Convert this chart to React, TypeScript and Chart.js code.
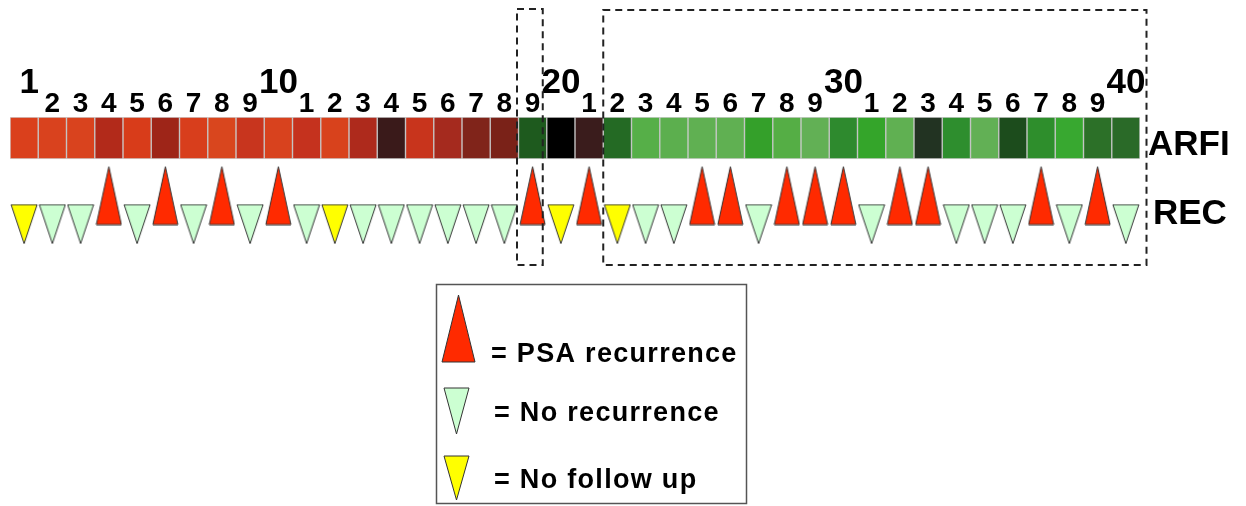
import React, { useEffect, useRef } from 'react';
import { Chart, registerables } from 'chart.js';

Chart.register(...registerables);

// ---- data ----
const patients = ['1','2','3','4','5','6','7','8','9','10','11','12','13','14','15','16','17','18','19','20','21','22','23','24','25','26','27','28','29','30','31','32','33','34','35','36','37','38','39','40'];
const tickLabels = ['1','2','3','4','5','6','7','8','9','10','1','2','3','4','5','6','7','8','9','20','1','2','3','4','5','6','7','8','9','30','1','2','3','4','5','6','7','8','9','40'];
const majorTickIdx = [0, 9, 19, 29, 39];
const arfiColors = [
  '#DA401C','#D9421E','#D9431E','#B22A1A','#D83C1A','#9E2518','#D83E1C','#D9461E','#C8351E','#D8421E',
  '#C5321E','#D8421C','#AE2A1C','#3A1A1A','#C8341C','#A52A1E','#80241A','#7A2218','#1E5A1E','#000000',
  '#3A1C1C','#246A24','#56AF48','#5CAF4E','#60B052','#60B052','#34A02A','#55AE45','#62B055','#2E8A2E',
  '#34A52A','#60B052','#223322','#2E8E2E','#62B055','#1C4C1C','#2E8E2C','#38A830','#2C7028','#2A6A28'
];
// R = PSA recurrence, N = no recurrence, F = no follow up
const recStatus = ['F','N','N','R','N','R','N','R','N','R','N','F','N','N','N','N','N','N','R','F','R','F','N','N','R','R','N','R','R','R','N','R','R','N','N','N','R','N','R','N'];
const rowLabels = ['ARFI', 'REC'];
const legendLabels = ['= PSA recurrence', '= No recurrence', '= No follow up'];
const highlightGroups = [[19, 19], [22, 40]];

const FONT = '"Liberation Sans", Arial, Helvetica, sans-serif';
const RED = '#FF2A00';
const GREEN = '#CCFFD2';
const YELLOW = '#FFFF00';
const UP_Y = 1.13;
const DOWN_Y = 0.45;

function triPath(ctx: CanvasRenderingContext2D, x: number, y: number, w: number, h: number, up: boolean, fill: string) {
  ctx.beginPath();
  if (up) {
    ctx.moveTo(x, y + h);
    ctx.lineTo(x + w / 2, y);
    ctx.lineTo(x + w, y + h);
  } else {
    ctx.moveTo(x, y);
    ctx.lineTo(x + w, y);
    ctx.lineTo(x + w / 2, y + h);
  }
  ctx.closePath();
  ctx.fillStyle = fill;
  ctx.fill();
  ctx.lineWidth = 1;
  ctx.strokeStyle = '#333333';
  ctx.stroke();
}

function makeTri(w: number, h: number, up: boolean, fill: string): HTMLCanvasElement {
  const c = document.createElement('canvas');
  c.width = w + 2;
  c.height = h + 2;
  const ctx = c.getContext('2d')!;
  triPath(ctx, 1, 1, w, h, up, fill);
  return c;
}

export default function App() {
  const ref = useRef<HTMLCanvasElement | null>(null);

  useEffect(() => {
    document.body.style.margin = '0';
    const canvas = ref.current;
    if (!canvas) return;

    const upImg = makeTri(25, 58, true, RED);
    const greenImg = makeTri(26, 39, false, GREEN);
    const yellowImg = makeTri(26, 39, false, YELLOW);

    const overlay = {
      id: 'overlay',
      afterDraw(chart: any) {
        const ctx: CanvasRenderingContext2D = chart.ctx;
        const xs = chart.scales.x;
        const ys = chart.scales.y;
        ctx.save();
        // column numbers
        ctx.fillStyle = '#000';
        ctx.textAlign = 'center';
        ctx.textBaseline = 'alphabetic';
        tickLabels.forEach((t, i) => {
          const major = majorTickIdx.includes(i);
          ctx.font = `bold ${major ? 35 : 28}px ${FONT}`;
          const x = xs.getPixelForValue(i) + (i === 0 ? 5 : 0);
          ctx.fillText(t, x, major ? 93 : 112);
        });
        // row labels
        ctx.textAlign = 'left';
        ctx.font = `bold 35px ${FONT}`;
        ctx.fillText(rowLabels[0], xs.right + 8, ys.getPixelForValue(2.1));
        ctx.fillText(rowLabels[1], xs.right + 13, ys.getPixelForValue(0.45));

        // dashed highlight boxes
        ctx.setLineDash([7, 5]);
        ctx.lineWidth = 2;
        ctx.strokeStyle = '#222';
        highlightGroups.forEach(([a, b], gi) => {
          const half = (xs.getPixelForValue(1) - xs.getPixelForValue(0)) / 2;
          let l: number, r: number;
          if (a === b) {
            l = xs.getPixelForValue(a - 1) - half - 1.5;
            r = xs.getPixelForValue(b - 1) + half - 4;
          } else {
            l = xs.getPixelForValue(a - 1) - half;
            r = xs.getPixelForValue(b - 1) + half + 6.5;
          }
          const top = gi === 0 ? 9 : 10;
          ctx.strokeRect(l, top, r - l, 265 - top);
        });
        ctx.setLineDash([]);

        // legend box
        ctx.lineWidth = 1.5;
        ctx.strokeStyle = '#555';
        ctx.strokeRect(436.5, 284.5, 310, 219);
        triPath(ctx, 442, 295, 33, 67, true, RED);
        triPath(ctx, 444, 388, 25, 46, false, GREEN);
        triPath(ctx, 444, 456, 25, 44, false, YELLOW);
        ctx.fillStyle = '#000';
        ctx.font = `bold 27px ${FONT}`;
        (ctx as any).letterSpacing = '1.3px';
        ctx.fillText(legendLabels[0], 491, 362);
        ctx.fillText(legendLabels[1], 494, 421);
        ctx.fillText(legendLabels[2], 494, 488);
        (ctx as any).letterSpacing = '0px';
        ctx.restore();
      },
    };

    const chart = new Chart(canvas, {
      type: 'bar',
      data: {
        labels: patients,
        datasets: [
          {
            type: 'line',
            label: 'PSA recurrence',
            data: recStatus.map((s) => (s === 'R' ? UP_Y : null)),
            showLine: false,
            pointStyle: upImg,
            pointRadius: 5,
            clip: false,
            order: 0,
          } as any,
          {
            type: 'line',
            label: 'No recurrence',
            data: recStatus.map((s) => (s === 'N' ? DOWN_Y : null)),
            showLine: false,
            pointStyle: greenImg,
            pointRadius: 5,
            clip: false,
            order: 1,
          } as any,
          {
            type: 'line',
            label: 'No follow up',
            data: recStatus.map((s) => (s === 'F' ? DOWN_Y : null)),
            showLine: false,
            pointStyle: yellowImg,
            pointRadius: 5,
            clip: false,
            order: 2,
          } as any,
          {
            type: 'bar',
            label: 'ARFI',
            data: patients.map(() => [2, 3]),
            backgroundColor: arfiColors,
            borderColor: 'rgba(70,70,70,0.25)',
            borderWidth: 1,
            borderSkipped: false,
            barPercentage: 1,
            categoryPercentage: 1,
            order: 3,
          } as any,
        ],
      },
      options: {
        responsive: false,
        devicePixelRatio: 1,
        animation: false,
        layout: { padding: { left: 10, right: 106, top: 117, bottom: 263 } },
        plugins: { legend: { display: false }, tooltip: { enabled: false } },
        scales: {
          x: { type: 'category', display: false, offset: true, grid: { display: false } },
          y: { type: 'linear', display: false, min: 0, max: 3 },
        },
      },
      plugins: [overlay],
    });

    return () => chart.destroy();
  }, []);

  return (
    <div style={{ width: 1246, height: 506, background: '#fff' }}>
      <canvas ref={ref} width={1246} height={506} style={{ display: 'block' }} />
    </div>
  );
}
